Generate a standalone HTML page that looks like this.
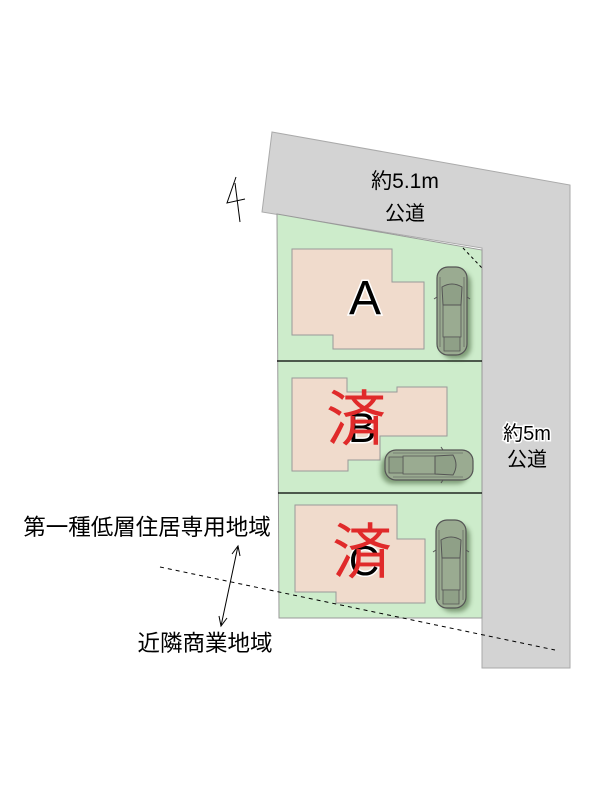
<!DOCTYPE html>
<html><head><meta charset="utf-8"><style>
html,body{margin:0;padding:0;background:#fff;}
svg{display:block;}
text{font-family:"Liberation Sans","Noto Sans CJK JP",sans-serif;}
</style></head><body>
<svg width="600" height="800" viewBox="0 0 600 800" xmlns="http://www.w3.org/2000/svg">
<defs>
<filter id="sh" x="-50%" y="-50%" width="200%" height="200%"><feGaussianBlur stdDeviation="2.5"/></filter>
<g id="car">
<rect x="4" y="4" width="30" height="88" rx="12" fill="#3d5a33" opacity="0.55" filter="url(#sh)"/>
<rect x="0" y="0" width="30" height="88" rx="11" fill="#9aab91" stroke="#555" stroke-width="1.2"/>
<path d="M5 20 Q15 14 25 20 L24 38 L6 38 Z" fill="#8fa087" stroke="#555" stroke-width="1"/>
<path d="M6 38 L24 38 L24 70 L6 70 Z" fill="none" stroke="#555" stroke-width="0.8"/>
<path d="M7 70 L23 70 L23 84 L7 84 Z" fill="#8fa087" stroke="#555" stroke-width="0.8"/>
<line x1="3" y1="10" x2="3" y2="80" stroke="#555" stroke-width="0.6"/>
<line x1="27" y1="10" x2="27" y2="80" stroke="#555" stroke-width="0.6"/>
<line x1="0" y1="30" x2="-3" y2="32" stroke="#555"/>
<line x1="30" y1="30" x2="33" y2="32" stroke="#555"/>
</g>
</defs>
<polygon points="272,132 570,185 570,668 482,668 482,248 262,212" fill="#d3d3d3" stroke="#aaa" stroke-width="1"/>
<polygon points="277,214 482,250 482,618 279,618" fill="#cdeccb" stroke="#999" stroke-width="1"/>
<line x1="277" y1="361" x2="482" y2="361" stroke="#000" stroke-width="1.3"/>
<line x1="278" y1="493" x2="482" y2="493" stroke="#000" stroke-width="1.3"/>
<line x1="463" y1="248" x2="482" y2="268" stroke="#000" stroke-dasharray="3,3"/>
<polygon points="292,249 392,249 392,282 424,282 424,349 333,349 333,335 292,335" fill="#f0dbcc" stroke="#999"/>
<polygon points="292,378 347,378 347,392 397,392 397,387 447,387 447,436 380,436 380,460 348,460 348,471 292,471" fill="#f0dbcc" stroke="#999"/>
<polygon points="295,505 397,505 397,539 425,539 425,603 336,603 336,592 295,592" fill="#f0dbcc" stroke="#999"/>
<use href="#car" transform="translate(437,267)"/>
<use href="#car" transform="translate(473,450) rotate(90)"/>
<use href="#car" transform="translate(436,520)"/>
<line x1="160" y1="567" x2="555" y2="650" stroke="#000" stroke-width="1" stroke-dasharray="4,4"/>
<line x1="238" y1="546" x2="221" y2="626" stroke="#000" stroke-width="1"/>
<polyline points="232,554 238,546 240,556" fill="none" stroke="#000"/>
<polyline points="219,616 221,626 227,618" fill="none" stroke="#000"/>
<polyline points="236,177 227,203 245,199" fill="none" stroke="#000" stroke-width="1"/>
<line x1="235" y1="183" x2="240" y2="222" stroke="#000"/>
<text x="405" y="188" font-size="21" text-anchor="middle" fill="#000">約5.1m</text>
<text x="405" y="220" font-size="20" text-anchor="middle" fill="#000">公道</text>
<text x="527" y="440" font-size="20" text-anchor="middle" fill="#000" stroke="#fff" stroke-width="3" paint-order="stroke">約5m</text>
<text x="527" y="466" font-size="20" text-anchor="middle" fill="#000">公道</text>
<text x="365" y="314" font-size="48" text-anchor="middle" fill="#000" stroke="#fff" stroke-width="3" paint-order="stroke">A</text>
<text x="362" y="442" font-size="42" text-anchor="middle" fill="#000" stroke="#fff" stroke-width="3" paint-order="stroke">B</text>
<text x="364" y="575" font-size="42" text-anchor="middle" fill="#000" stroke="#fff" stroke-width="3" paint-order="stroke">C</text>
<text x="356" y="440" font-size="60" text-anchor="middle" fill="#e02a2a">済</text>
<text x="362" y="573" font-size="60" text-anchor="middle" fill="#e02a2a">済</text>
<text x="147" y="535" font-size="22.5" text-anchor="middle" fill="#000">第一種低層住居専用地域</text>
<text x="205" y="651" font-size="22.5" text-anchor="middle" fill="#000">近隣商業地域</text>
</svg>
</body></html>
